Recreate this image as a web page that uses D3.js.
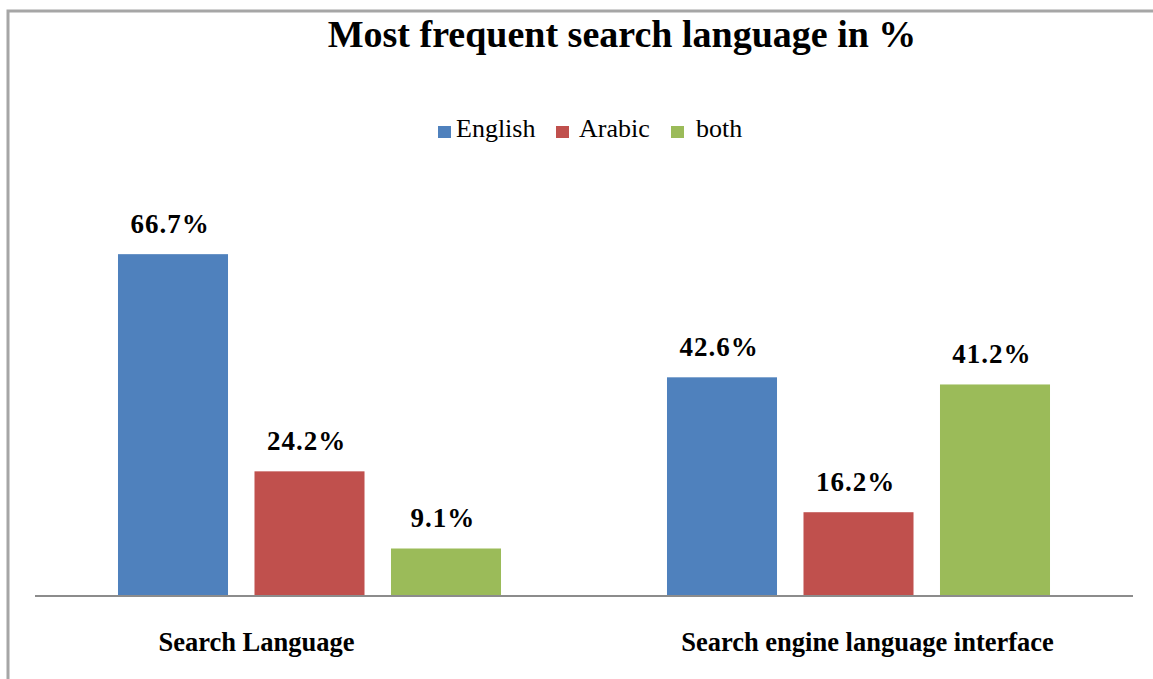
<!DOCTYPE html>
<html>
<head>
<meta charset="utf-8">
<script src="https://cdn.jsdelivr.net/npm/d3@7"></script>
<style>
  body { margin: 0; background: #fff; }
  svg { display: block; }
</style>
</head>
<body>
<script>
// chart data
var categories = ['Search Language', 'Search engine language interface'];
var seriesNames = ['English', 'Arabic', 'both'];
var english = [66.7, 42.6];
var arabic = [24.2, 16.2];
var both = [9.1, 41.2];
var seriesColors = ['#4F81BD', '#C0504D', '#9BBB59'];

var width = 1153;
var height = 679;
var serif = '"Liberation Serif", "Times New Roman", serif';

var svg = d3.select('body')
  .append('svg')
  .attr('width', width)
  .attr('height', height);

// chart frame (top and left edges are visible)
svg.append('path')
  .attr('d', 'M8,' + height + 'V11H' + width)
  .attr('fill', 'none')
  .attr('stroke', '#a6a6a6')
  .attr('stroke-width', 3);

// title
svg.append('text')
  .attr('x', 622)
  .attr('y', 47)
  .attr('text-anchor', 'middle')
  .style('font-family', serif)
  .style('font-weight', 'bold')
  .style('font-size', '38px')
  .text('Most frequent search language in %');

// scales
var x0 = d3.scaleBand()
  .domain(categories)
  .range([35, 1133]);

var x1 = d3.scaleBand()
  .domain(seriesNames)
  .range([0, x0.bandwidth()])
  .paddingInner(0.194)
  .paddingOuter(0.608);

var y = d3.scaleLinear()
  .domain([0, 100])
  .range([595, 84]);

var color = d3.scaleOrdinal()
  .domain(seriesNames)
  .range(seriesColors);

var rows = categories.map(function(c, i) {
  return {
    category: c,
    values: [
      {name: 'English', value: english[i]},
      {name: 'Arabic', value: arabic[i]},
      {name: 'both', value: both[i]}
    ]
  };
});

// bars
var groups = svg.append('g')
  .selectAll('g')
  .data(rows)
  .enter()
  .append('g')
  .attr('transform', function(d) {
    return 'translate(' + x0(d.category) + ',0)';
  });

groups.selectAll('rect')
  .data(function(d) { return d.values; })
  .enter()
  .append('rect')
  .attr('x', function(d) { return x1(d.name); })
  .attr('y', function(d) { return y(d.value); })
  .attr('width', x1.bandwidth())
  .attr('height', function(d) { return y(0) - y(d.value); })
  .attr('fill', function(d) { return color(d.name); });

// value labels
groups.selectAll('text')
  .data(function(d) { return d.values; })
  .enter()
  .append('text')
  .attr('x', function(d) { return x1(d.name) + x1.bandwidth() / 2 - 3; })
  .attr('y', function(d) { return y(d.value) - 21; })
  .attr('text-anchor', 'middle')
  .style('font-family', serif)
  .style('font-weight', 'bold')
  .style('font-size', '27px')
  .style('letter-spacing', '1px')
  .text(function(d) { return d.value.toFixed(1) + '%'; });

// x axis line
svg.append('line')
  .attr('x1', x0.range()[0])
  .attr('x2', x0.range()[1])
  .attr('y1', y(0) + 1)
  .attr('y2', y(0) + 1)
  .attr('stroke', '#8c8c8c')
  .attr('stroke-width', 2);

// category labels (offset from band centre as in the original)
var labelShift = [-53, 9];
svg.append('g')
  .selectAll('text')
  .data(categories)
  .enter()
  .append('text')
  .attr('x', function(d, i) { return x0(d) + x0.bandwidth() / 2 + labelShift[i]; })
  .attr('y', 651)
  .attr('text-anchor', 'middle')
  .style('font-family', serif)
  .style('font-weight', 'bold')
  .style('font-size', '26.5px')
  .text(function(d) { return d; });

// legend
var legendX = [438, 556, 671];
var legend = svg.append('g')
  .selectAll('g')
  .data(seriesNames)
  .enter()
  .append('g')
  .attr('transform', function(d, i) { return 'translate(' + legendX[i] + ',126)'; });

legend.append('rect')
  .attr('width', 13)
  .attr('height', 12)
  .attr('fill', function(d) { return color(d); });

legend.append('text')
  .attr('x', function(d, i) { return i === 0 ? 18 : i === 1 ? 23 : 25; })
  .attr('y', 11)
  .style('font-family', serif)
  .style('font-size', '26px')
  .text(function(d) { return d; });
</script>
</body>
</html>
